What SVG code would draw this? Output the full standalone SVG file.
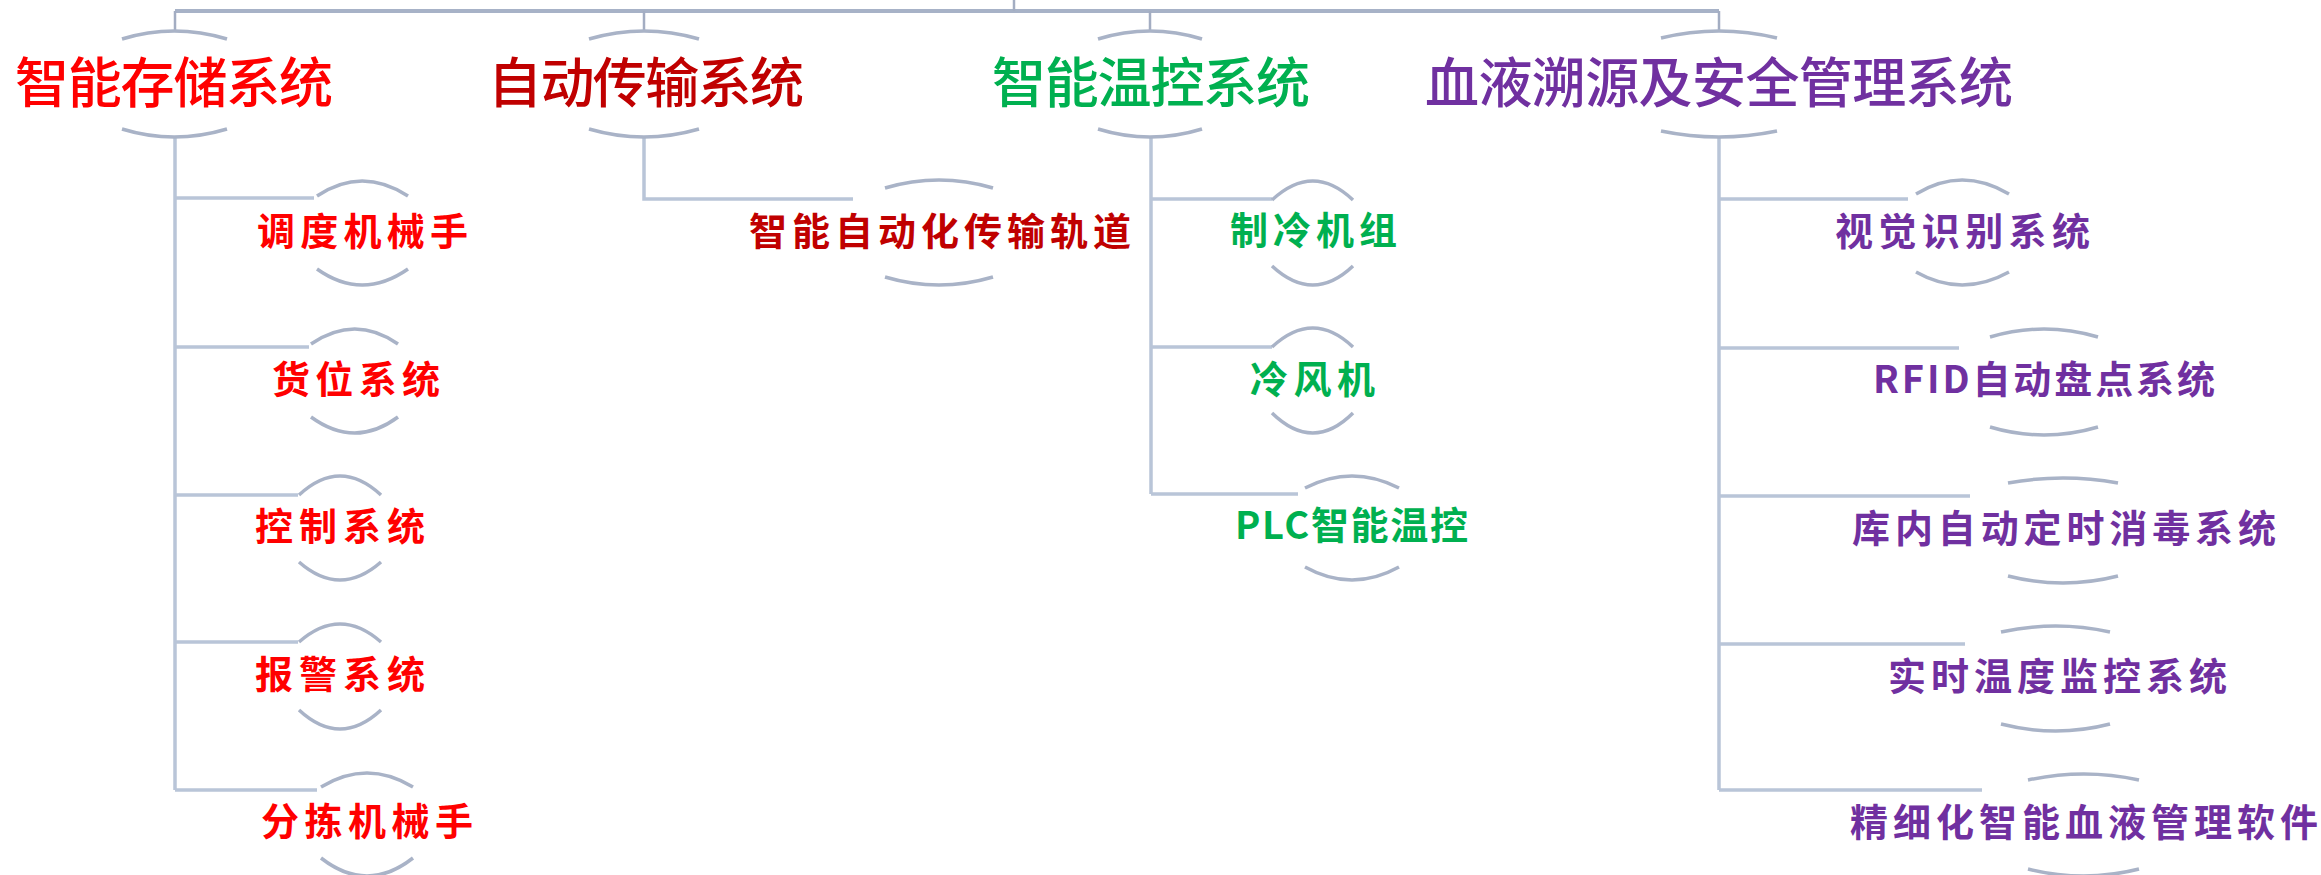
<svg xmlns="http://www.w3.org/2000/svg" width="2321" height="875" viewBox="0 0 2321 875">
<style>
  .bg{fill:#FFFFFF}
  .top{stroke:#A7B2C7;stroke-width:4;fill:none}
  .stem{stroke:#A3ADC2;stroke-width:2.5;fill:none}
  .line{stroke:#B9C5D8;stroke-width:3.5;fill:none}
  .arc{stroke:#A9B3C7;stroke-width:3.5;fill:none;stroke-linecap:butt}
  text{font-family:"Noto Sans CJK SC","Liberation Sans",sans-serif;font-weight:700}
  .l1{font-size:54px;font-weight:500}
  .l2{font-size:38px}
  .red{fill:#FF0000}
  .dred{fill:#C00000}
  .green{fill:#00B050}
  .purple{fill:#7030A0}
</style>
<rect class="bg" x="0" y="0" width="2321" height="875"/>
<g id="connectors">
  <path class="top" d="M175,11 H1719"/>
  <path class="stem" d="M1014,0 V11"/>
  <path class="stem" d="M175,11 V31 M644,11 V31 M1150,11 V31 M1719,11 V31"/>
  <path class="line" d="M175,137 V790 M175,198 H314 M175,347 H309 M175,495 H298 M175,642 H298 M175,790 H317"/>
  <path class="line" d="M644,137 V199 H853"/>
  <path class="line" d="M1151,137 V494 M1151,199 H1272 M1151,347 H1272 M1151,494 H1298"/>
  <path class="line" d="M1719,137 V790 M1719,199 H1908 M1719,348 H1959 M1719,496 H1970 M1719,644 H1965 M1719,790 H1982"/>
</g>
<g id="node-storage">
  <path class="arc" d="M122,39 Q174,23 227,39 M122,129 Q174,145 227,129"/>
  <text class="l1 red" x="15" y="103" textLength="318" lengthAdjust="spacing">智能存储系统</text>
</g>
<g id="node-transport">
  <path class="arc" d="M589,39 Q644,23 699,39 M589,129 Q644,145 699,129"/>
  <text class="l1 dred" x="488" y="103" textLength="316" lengthAdjust="spacing">自动传输系统</text>
</g>
<g id="node-temp">
  <path class="arc" d="M1098,39 Q1150,23 1202,39 M1098,129 Q1150,145 1202,129"/>
  <text class="l1 green" x="992" y="103" textLength="318" lengthAdjust="spacing">智能温控系统</text>
</g>
<g id="node-trace">
  <path class="arc" d="M1661,38 Q1719,24 1777,38 M1661,131 Q1719,143 1777,131"/>
  <text class="l1 purple" x="1425" y="103" textLength="588" lengthAdjust="spacing">血液溯源及安全管理系统</text>
</g>
<g id="node-a1">
  <path class="arc" d="M317,196 Q362,166 408,196 M317,269 Q362,301 408,269"/>
  <text class="l2 red" x="257" y="245" textLength="211" lengthAdjust="spacing">调度机械手</text>
</g>
<g id="node-a2">
  <path class="arc" d="M311,344 Q355,314 398,344 M311,417 Q355,449 398,417"/>
  <text class="l2 red" x="272" y="393" textLength="168" lengthAdjust="spacing">货位系统</text>
</g>
<g id="node-a3">
  <path class="arc" d="M299,495 Q340,457 381,495 M299,562 Q340,598 381,562"/>
  <text class="l2 red" x="255" y="540" textLength="170" lengthAdjust="spacing">控制系统</text>
</g>
<g id="node-a4">
  <path class="arc" d="M299,642 Q340,606 381,642 M299,710 Q340,748 381,710"/>
  <text class="l2 red" x="255" y="688" textLength="170" lengthAdjust="spacing">报警系统</text>
</g>
<g id="node-a5">
  <path class="arc" d="M321,787 Q367,759 413,787 M321,858 Q367,894 413,858"/>
  <text class="l2 red" x="261" y="835" textLength="212" lengthAdjust="spacing">分拣机械手</text>
</g>
<g id="node-b1">
  <path class="arc" d="M885,188 Q939,172 993,188 M885,277 Q939,293 993,277"/>
  <text class="l2 dred" x="749" y="245" textLength="382" lengthAdjust="spacing">智能自动化传输轨道</text>
</g>
<g id="node-c1">
  <path class="arc" d="M1272,200 Q1313,162 1353,200 M1272,266 Q1313,304 1353,266"/>
  <text class="l2 green" x="1230" y="244" textLength="167" lengthAdjust="spacing">制冷机组</text>
</g>
<g id="node-c2">
  <path class="arc" d="M1272,347 Q1313,309 1353,347 M1272,413 Q1313,453 1353,413"/>
  <text class="l2 green" x="1250" y="393" textLength="125" lengthAdjust="spacing">冷风机</text>
</g>
<g id="node-c3">
  <path class="arc" d="M1305,488 Q1352,464 1399,488 M1305,567 Q1352,593 1399,567"/>
  <text class="l2 green" x="1235" y="539" textLength="233" lengthAdjust="spacing">PLC智能温控</text>
</g>
<g id="node-d1">
  <path class="arc" d="M1916,194 Q1962,166 2009,194 M1916,272 Q1962,298 2009,272"/>
  <text class="l2 purple" x="1835" y="245" textLength="255" lengthAdjust="spacing">视觉识别系统</text>
</g>
<g id="node-d2">
  <path class="arc" d="M1990,337 Q2044,321 2098,337 M1990,427 Q2044,443 2098,427"/>
  <text class="l2 purple" x="1873" y="393" textLength="342" lengthAdjust="spacing">RFID自动盘点系统</text>
</g>
<g id="node-d3">
  <path class="arc" d="M2008,483 Q2063,473 2118,483 M2008,576 Q2063,590 2118,576"/>
  <text class="l2 purple" x="1852" y="542" textLength="424" lengthAdjust="spacing">库内自动定时消毒系统</text>
</g>
<g id="node-d4">
  <path class="arc" d="M2001,632 Q2056,620 2110,632 M2001,724 Q2056,738 2110,724"/>
  <text class="l2 purple" x="1888" y="690" textLength="339" lengthAdjust="spacing">实时温度监控系统</text>
</g>
<g id="node-d5">
  <path class="arc" d="M2028,780 Q2084,768 2139,780 M2028,869 Q2084,883 2139,869"/>
  <text class="l2 purple" x="1850" y="836" textLength="468" lengthAdjust="spacing">精细化智能血液管理软件</text>
</g>
</svg>
